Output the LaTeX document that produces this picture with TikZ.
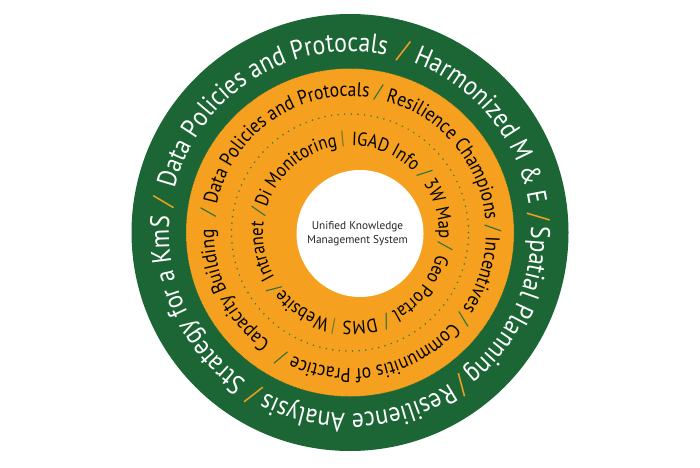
\documentclass[tikz,border=0pt]{standalone}
\usepackage{fontspec}
\usetikzlibrary{decorations.text}
\newfontfamily\ringfont[FakeStretch=0.88]{PT Sans}
\newfontfamily\plainfont{PT Sans}
\definecolor{ringgreen}{HTML}{1B6634}
\definecolor{ringorange}{HTML}{F5A01E}
\definecolor{dotgreen}{HTML}{2E7D3C}
\definecolor{sepgreen}{HTML}{2A7038}
\definecolor{sepolive}{HTML}{6A7A2A}
\definecolor{sepbar}{HTML}{3B6A2E}
\definecolor{slashorange}{HTML}{F0A020}
% #1 center, #2 radius, #3 start angle, #4 end angle, #5 format, #6 text
\newcommand\ringtext[6]{%
  \path[decorate, decoration={text along path, text align=center,
    text={|#5|#6}}] (#1) ++(#3:#2) arc[start angle=#3, end angle=#4, radius=#2];}
% #1 name, #2 center, #3 radius, #4 angle, #5 style, #6 char
\newcommand\ringsep[6]{%
  \path (#2) ++(#4:#3) node[#5, rotate=#4-90] (#1) {#6};}
\tikzset{
  outersep/.style={text=slashorange, font=\ringfont\fontsize{27}{27}\selectfont, inner sep=0pt},
  midsep/.style={text=sepgreen, font=\ringfont\fontsize{20}{20}\selectfont, inner sep=0pt},
  innersep/.style={text=sepgreen, font=\ringfont\fontsize{19}{19}\selectfont, inner sep=0pt},
  innerbar/.style={text=sepolive, font=\ringfont\fontsize{19}{19}\selectfont, inner sep=0pt},
}
\def\outerfmt{\ringfont\fontsize{27}{27}\selectfont\color{white}}
\def\midfmt{\ringfont\fontsize{20}{20}\selectfont\color{black}}
\def\innerfmt{\ringfont\fontsize{19}{19}\selectfont\color{black}}
\begin{document}
\begin{tikzpicture}[x=1pt,y=1pt]
\useasboundingbox (0,0) rectangle (700,467);
\coordinate (C) at (350,234.5);
\coordinate (W) at (360,233.5);
\coordinate (I) at (351,233.5);
\fill[ringgreen] (C) circle[radius=218.5pt];
\fill[ringorange] (C) circle[radius=164pt];
\draw[ringgreen, densely dotted, line width=0.5pt] (C) circle[radius=164pt];
\draw[dotgreen, line width=1.7pt, line cap=round, dash pattern=on 0pt off 6.6pt] (C) circle[radius=118.5pt];
\fill[white] (W) circle[radius=63.5pt];
\node[font=\plainfont\fontsize{11.3}{13.6}\selectfont, text=black!85, align=center] (core) at (357.5,233.6) {Unified Knowledge\\Management System};
% outer ring
\ringtext{C}{181pt}{170.7}{73.6}{\outerfmt}{Data Policies and Protocals}
\ringtext{C}{181pt}{73.6}{4.7}{\outerfmt}{Harmonized M {\&} E}
\ringtext{C}{181pt}{4.7}{-53.8}{\outerfmt}{Spatial Planning}
\ringtext{C}{181pt}{-53.8}{-120.7}{\outerfmt}{Resilience Analysis}
\ringtext{C}{181pt}{-120.7}{-189.3}{\outerfmt}{Strategy for a KmS}
\ringsep{o1}{C}{189pt}{73.6}{outersep}{/}
\ringsep{o2}{C}{189pt}{4.7}{outersep}{/}
\ringsep{o3}{C}{189pt}{-53.8}{outersep}{/}
\ringsep{o4}{C}{189pt}{-120.7}{outersep}{/}
\ringsep{o5}{C}{189pt}{170.7}{outersep}{/}
% middle ring
\ringtext{C}{136pt}{171.8}{78.5}{\midfmt}{Data Policies and Protocals}
\ringtext{C}{136pt}{78.5}{1.7}{\midfmt}{Resilience Champions}
\ringtext{C}{136pt}{1.7}{-37.4}{\midfmt}{Incentives}
\ringtext{C}{136pt}{-37.4}{-118.9}{\midfmt}{Communitis of Practice}
\ringtext{C}{136pt}{-118.9}{-188.2}{\midfmt}{Capacity Building}
\ringsep{m1}{C}{143pt}{78.5}{midsep}{/}
\ringsep{m2}{C}{143pt}{1.7}{midsep}{/}
\ringsep{m3}{C}{143pt}{-37.4}{midsep}{/}
\ringsep{m4}{C}{143pt}{-118.9}{midsep}{/}
\ringsep{m5}{C}{143pt}{171.8}{midsep}{/}
% inner ring
\ringtext{I}{88pt}{166.6}{95.1}{\innerfmt}{Di Monitoring}
\ringtext{I}{88pt}{95.1}{39.2}{\innerfmt}{IGAD Info}
\ringtext{I}{88pt}{39.2}{-7.9}{\innerfmt}{3W Map}
\ringtext{I}{88pt}{-7.9}{-68.2}{\innerfmt}{Geo Portal}
\ringtext{I}{88pt}{-68.2}{-100.6}{\innerfmt}{DMS}
\ringtext{I}{88pt}{-100.6}{-144.3}{\innerfmt}{Website}
\ringtext{I}{88pt}{-144.3}{-193.4}{\innerfmt}{Intranet}
\ringsep{i1}{I}{95pt}{95.1}{innerbar}{|}
\ringsep{i2}{I}{95pt}{39.2}{innersep}{/}
\ringsep{i3}{I}{95pt}{-7.9}{innersep}{/}
\ringsep{i4}{I}{95pt}{-68.2}{innersep}{/}
\ringsep{i5}{I}{95pt}{-100.6}{innerbar}{|}
\ringsep{i6}{I}{95pt}{-144.3}{innersep}{/}
\ringsep{i7}{I}{95pt}{166.6}{innersep}{/}
\end{tikzpicture}
\end{document}
